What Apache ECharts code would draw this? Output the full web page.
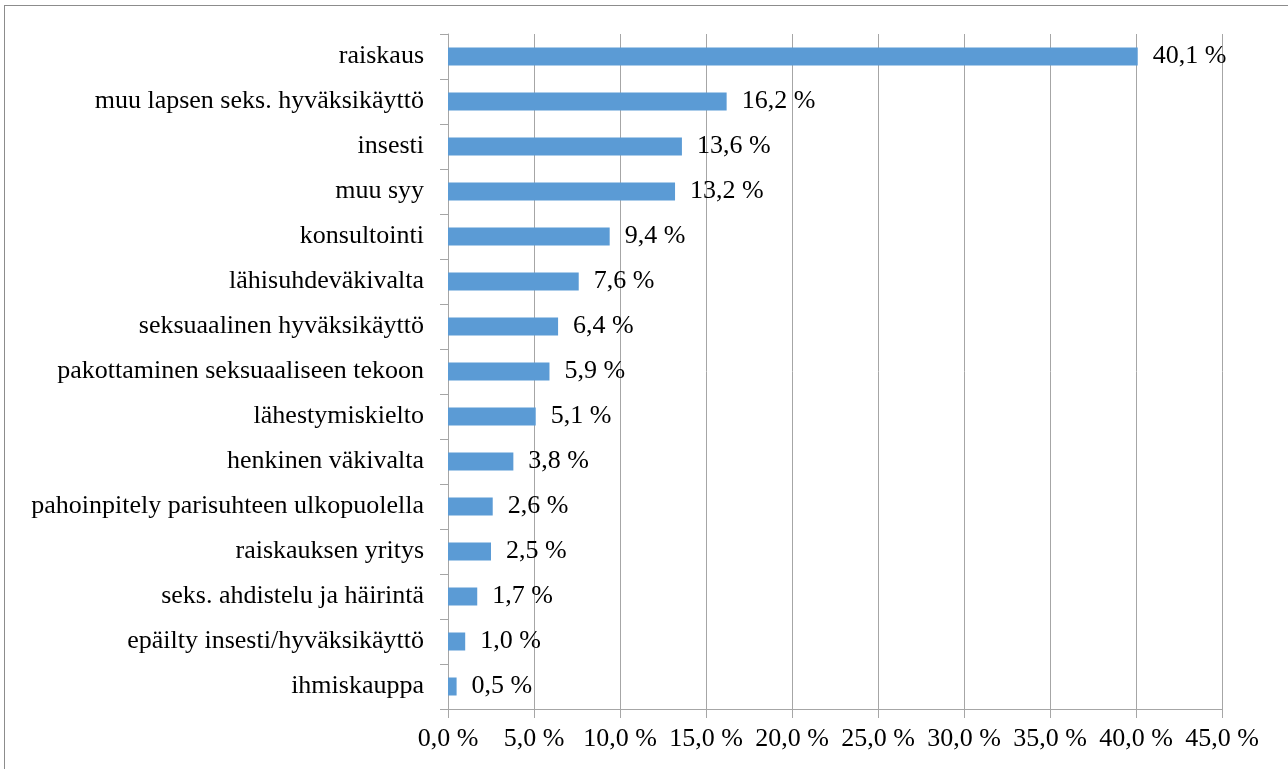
<!DOCTYPE html>
<html>
<head>
<meta charset="utf-8">
<script src="https://cdn.jsdelivr.net/npm/echarts@6/dist/echarts.min.js"></script>
<style>
  html, body { margin: 0; padding: 0; background: #fff; }
  #chart { width: 1288px; height: 769px; }
  #frame { position: absolute; left: 4px; top: 5px; width: 1300px; height: 800px; border: 1px solid #8c8c8c; box-sizing: border-box; pointer-events: none; }
</style>
</head>
<body>
<div id="chart"></div>
<div id="frame"></div>
<script>
// luokat ylhäältä alas
const categories = [
  "raiskaus",
  "muu lapsen seks. hyväksikäyttö",
  "insesti",
  "muu syy",
  "konsultointi",
  "lähisuhdeväkivalta",
  "seksuaalinen hyväksikäyttö",
  "pakottaminen seksuaaliseen tekoon",
  "lähestymiskielto",
  "henkinen väkivalta",
  "pahoinpitely parisuhteen ulkopuolella",
  "raiskauksen yritys",
  "seks. ahdistelu ja häirintä",
  "epäilty insesti/hyväksikäyttö",
  "ihmiskauppa"
];
const values = [40.1, 16.2, 13.6, 13.2, 9.4, 7.6, 6.4, 5.9, 5.1, 3.8, 2.6, 2.5, 1.7, 1.0, 0.5];
const axisMin = 0;
const axisMax = 45;
const axisStep = 5;

const fmt = v => v.toFixed(1).replace(".", ",") + " %";
const font = "'Liberation Serif', 'Times New Roman', serif";

let myChart = echarts.init(document.getElementById("chart"));
myChart.setOption({
  animation: false,
  textStyle: { fontFamily: font },
  grid: { left: 448, right: 66, top: 34, bottom: 60 },
  xAxis: {
    type: "value",
    min: axisMin,
    max: axisMax,
    interval: axisStep,
    axisLine: { show: true, lineStyle: { color: "#a6a6a6" } },
    axisTick: { show: true, length: 9, lineStyle: { color: "#a6a6a6" } },
    axisLabel: { formatter: fmt, color: "#000", fontSize: 26, fontFamily: font, margin: 17 },
    splitLine: { show: true, lineStyle: { color: "#a6a6a6", width: 1 } }
  },
  yAxis: {
    type: "category",
    inverse: true,
    data: categories,
    axisLine: { show: true, lineStyle: { color: "#a6a6a6" } },
    axisTick: { show: true, length: 8, lineStyle: { color: "#a6a6a6" } },
    axisLabel: { color: "#000", fontSize: 26, fontFamily: font, margin: 24 }
  },
  series: [{
    type: "bar",
    data: values,
    barWidth: 18,
    itemStyle: { color: "#5b9bd5" },
    label: {
      show: true,
      position: "right",
      distance: 15,
      formatter: p => fmt(p.value),
      color: "#000",
      fontSize: 26,
      fontFamily: font
    }
  }]
});
</script>
</body>
</html>
